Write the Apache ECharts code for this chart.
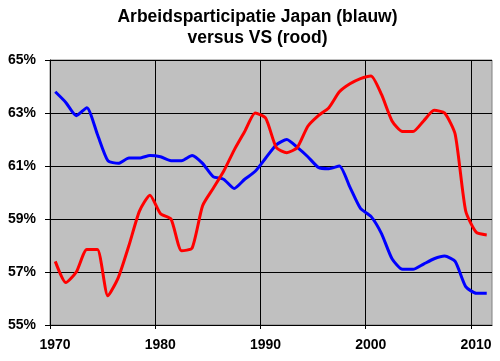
<!DOCTYPE html>
<html>
<head>
<meta charset="utf-8">
<script src="https://cdn.jsdelivr.net/npm/echarts@6/dist/echarts.min.js"></script>
<style>
html,body{margin:0;padding:0;background:#fff;}
#chart{width:500px;height:361px;}
</style>
</head>
<body>
<div id="chart"></div>
<script>
const titleLines = ['Arbeidsparticipatie Japan (blauw)', 'versus VS (rood)'];
const years = [1970,1971,1972,1973,1974,1975,1976,1977,1978,1979,
  1980,1981,1982,1983,1984,1985,1986,1987,1988,1989,
  1990,1991,1992,1993,1994,1995,1996,1997,1998,1999,
  2000,2001,2002,2003,2004,2005,2006,2007,2008,2009,2010,2011];
const japan = [63.8,63.4,62.9,63.2,62.2,61.2,61.1,61.3,61.3,61.4,
  61.35,61.2,61.2,61.4,61.1,60.6,60.5,60.15,60.5,60.8,
  61.3,61.8,62.0,61.7,61.35,60.95,60.9,61.0,60.2,59.4,
  59.1,58.45,57.5,57.1,57.1,57.3,57.5,57.6,57.4,56.45,56.2,56.2];
const usa = [57.4,56.6,57.0,57.85,57.85,56.1,56.8,58.0,59.3,59.9,
  59.2,59.0,57.8,57.9,59.5,60.15,60.8,61.6,62.3,63.0,
  62.8,61.7,61.5,61.7,62.5,62.9,63.2,63.8,64.1,64.3,
  64.4,63.7,62.7,62.3,62.3,62.7,63.1,63.0,62.2,59.3,58.5,58.4];
const xTicks = [1970,1980,1990,2000,2010];
const yTicks = [55,57,59,61,63,65];

const toPairs = (vals) => vals.map((v, i) => [years[i] + 0.5, v]);
const fontFam = 'Liberation Sans, Arial, sans-serif';

const chart = echarts.init(document.getElementById('chart'), null, {renderer: 'canvas'});
chart.setOption({
  animation: false,
  backgroundColor: '#ffffff',
  graphic: titleLines.map((t, i) => ({
    type: 'text',
    x: 257.5,
    y: 17.3 + i * 21,
    style: {
      text: t,
      fill: '#000',
      font: 'bold 17.5px ' + fontFam,
      textAlign: 'center',
      textVerticalAlign: 'middle'
    }
  })),
  grid: {
    left: 50, right: 8, top: 60, bottom: 36,
    show: true,
    backgroundColor: '#c0c0c0',
    borderColor: '#808080',
    borderWidth: 1
  },
  xAxis: {
    type: 'value',
    min: 1970, max: 2012, interval: 10,
    axisLine: {show: true, onZero: false, lineStyle: {color: '#000', width: 1}},
    axisTick: {show: true, length: 4, customValues: xTicks, lineStyle: {color: '#000'}},
    splitLine: {show: true, lineStyle: {color: '#000', width: 1}},
    axisLabel: {
      customValues: xTicks,
      margin: 13,
      padding: [0, 0, 0, 10],
      fontFamily: fontFam,
      fontWeight: 'bold',
      fontSize: 14,
      color: '#000',
      formatter: (v) => String(v)
    }
  },
  yAxis: {
    type: 'value',
    min: 55, max: 65, interval: 2,
    axisLine: {show: true, onZero: false, lineStyle: {color: '#000', width: 1}},
    axisTick: {show: true, length: 5, customValues: yTicks, lineStyle: {color: '#000'}},
    splitLine: {show: true, lineStyle: {color: '#000', width: 1}},
    axisLabel: {
      customValues: yTicks,
      margin: 14,
      fontFamily: fontFam,
      fontWeight: 'bold',
      fontSize: 14,
      color: '#000',
      formatter: (v) => v + '%'
    }
  },
  series: [
    {
      name: 'Japan', type: 'line', data: toPairs(japan),
      showSymbol: false, smooth: 0.2,
      lineStyle: {color: '#0000ff', width: 3},
      z: 2
    },
    {
      name: 'VS', type: 'line', data: toPairs(usa),
      showSymbol: false, smooth: 0.2,
      lineStyle: {color: '#ff0000', width: 3},
      z: 3
    }
  ]
});
</script>
</body>
</html>
